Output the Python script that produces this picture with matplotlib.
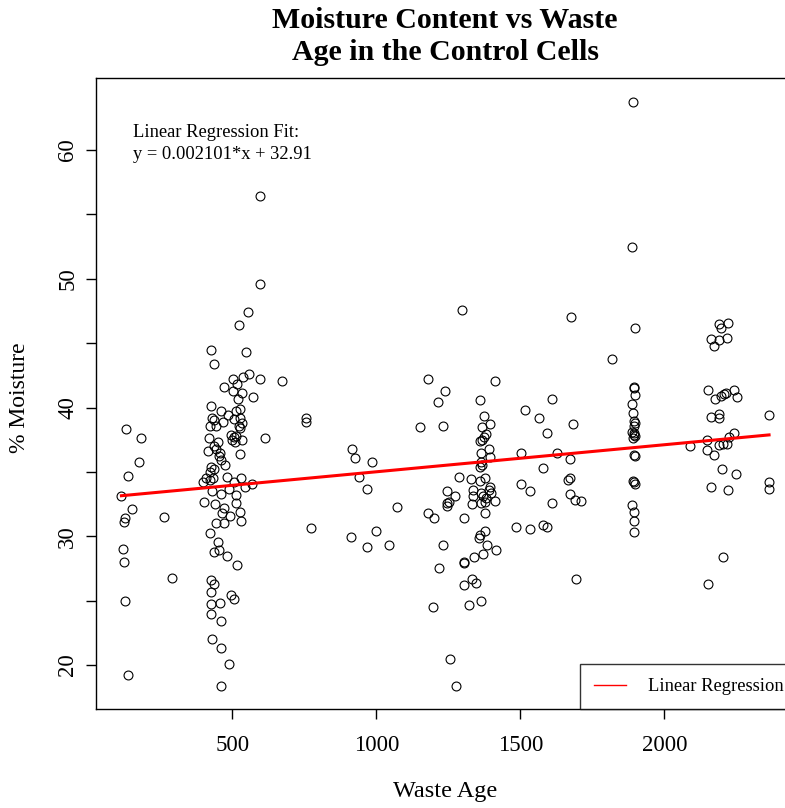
import numpy as np
import matplotlib
matplotlib.use("Agg")
import matplotlib.pyplot as plt

plt.rcParams['font.family'] = ['Liberation Serif', 'DejaVu Serif']

# Waste age (days) and moisture content (%) for the control cells
waste_age = [
    132, 184, 175, 137, 115, 151, 129, 125, 262, 120, 125, 292, 129, 137,
    595, 595, 555, 522,
    426, 548, 438, 557, 538, 501, 595, 517, 470, 502, 534, 573, 521, 528,
    426, 462, 484, 512, 428, 438, 469, 506, 525, 421, 444, 522, 535, 528,
    614, 419, 450, 495, 505, 514, 500, 508, 534, 437, 444, 415, 456, 454,
    462, 527, 427, 435, 476, 424, 410, 398, 421, 433, 483, 531, 505, 543,
    568, 430, 462, 490, 511, 400, 440, 471, 514, 528, 465, 491, 530, 444, 471,
    423, 449, 435, 454, 483, 517, 425, 435, 426, 497, 506, 458, 426, 427,
    462, 430, 462, 487, 460,
    673, 754, 754, 914, 925, 985, 941, 967, 1071, 773, 911, 998, 967, 1044,
    1298, 1676,
    1179, 1413, 1239, 1214, 1360, 1611, 1153, 1230, 1374, 1396, 1365, 1379,
    1375, 1367, 1361, 1515, 1563, 1593, 1684, 1391, 1396, 1363, 1503, 1628,
    1672, 1363, 1367, 1358, 1580, 1287, 1328, 1359, 1377, 1665, 1673, 1502,
    1532, 1396, 1391, 1398, 1245, 1274, 1337, 1334, 1332, 1363, 1370, 1380,
    1376, 1362, 1410, 1673, 1691, 1711, 1610, 1245, 1251, 1244, 1377, 1179,
    1201, 1304, 1485, 1532, 1580, 1592, 1378, 1360, 1355, 1383, 1416, 1369,
    1338, 1231, 1303, 1305, 1218, 1332, 1344, 1305, 1693, 1196, 1321, 1364,
    1256, 1278,
    1891, 1888, 1897, 1818,
    1893, 1893, 1897, 1888, 1891, 1895, 1897, 1893, 1888, 1893, 1897, 1891,
    1895, 1895, 1897, 1891, 1897, 1895, 1888, 1895, 1893, 1895,
    2190, 2222, 2195, 2160, 2190, 2217, 2173,
    2150, 2177, 2195, 2208, 2213, 2242, 2250, 2161, 2190, 2190, 2363, 2090,
    2146, 2146, 2173, 2190, 2204, 2216, 2225, 2242, 2198, 2247, 2163, 2219,
    2363, 2363, 2204, 2151,
]

moisture = [
    38.35, 37.6, 35.8, 34.7, 33.1, 32.1, 31.4, 31.1, 31.5, 29.0, 28.0, 26.8, 25.0, 19.25,
    56.4, 49.6, 47.4, 46.4,
    44.5, 44.3, 43.4, 42.6, 42.4, 42.2, 42.2, 41.8, 41.6, 41.3, 41.1, 40.8, 40.7, 39.9,
    40.1, 39.7, 39.4, 39.75, 39.2, 39.0, 38.9, 39.1, 39.2, 38.6, 38.6, 38.6, 38.8, 38.4,
    37.6, 37.6, 37.35, 37.9, 37.7, 37.8, 37.5, 37.35, 37.5, 37.0, 36.8, 36.6, 36.5, 36.2,
    35.9, 36.4, 35.4, 35.2, 35.5, 35.0, 34.5, 34.25, 34.4, 34.5, 34.6, 34.5, 34.25, 33.85,
    34.1, 33.5, 33.3, 33.7, 33.2, 32.7, 32.5, 32.2, 32.6, 31.9, 31.8, 31.6, 31.2, 31.05, 31.05,
    30.25, 29.55, 28.75, 28.9, 28.5, 27.8, 26.6, 26.3, 25.7, 25.45, 25.1, 24.8, 24.75, 24.0,
    23.4, 22.0, 21.3, 20.05, 18.4,
    42.1, 39.2, 38.9, 36.8, 36.05, 35.8, 34.6, 33.7, 32.3, 30.65, 29.95, 30.45, 29.2, 29.3,
    47.6, 47.0,
    42.2, 42.1, 41.3, 40.4, 40.6, 40.7, 38.5, 38.6, 39.35, 38.7, 38.5, 37.95,
    37.7, 37.5, 37.4, 39.8, 39.2, 38.0, 38.7, 36.75, 36.15, 36.5, 36.45, 36.5,
    36.0, 35.8, 35.5, 35.4, 35.3, 34.6, 34.45, 34.3, 34.5, 34.4, 34.55, 34.1,
    33.5, 33.85, 33.6, 33.4, 33.5, 33.15, 33.6, 33.1, 32.5, 33.4, 33.15, 33.0,
    32.7, 32.55, 32.75, 33.3, 32.85, 32.75, 32.6, 32.55, 32.65, 32.35, 31.8, 31.8,
    31.4, 31.45, 30.75, 30.55, 30.9, 30.75, 30.4, 30.1, 29.85, 29.3, 28.9, 28.6,
    28.4, 29.3, 27.95, 28.0, 27.55, 26.65, 26.4, 26.2, 26.7, 24.5, 24.65, 24.95,
    20.5, 18.4,
    63.75, 52.5, 46.2, 43.8,
    41.6, 41.5, 41.0, 40.3, 39.6, 38.95, 38.8, 38.6, 38.1, 38.0, 37.8, 37.65,
    37.9, 36.3, 36.2, 34.3, 34.1, 34.2, 32.4, 31.9, 31.2, 30.35,
    46.5, 46.6, 46.2, 45.35, 45.25, 45.4, 44.8,
    41.35, 40.7, 40.9, 41.05, 41.1, 41.35, 40.8, 39.3, 39.5, 39.2, 39.4, 37.0,
    37.5, 36.7, 36.35, 37.1, 37.15, 37.2, 37.7, 38.0, 35.2, 34.8, 33.8, 33.6,
    34.25, 33.65, 28.4, 26.3,
]

# Fitted regression coefficients
slope = 0.002101
intercept = 32.91

x_ticks = [500, 1000, 1500, 2000]
y_ticks = [20, 25, 30, 35, 40, 45, 50, 55, 60]
y_tick_labels = ['20', '', '30', '', '40', '', '50', '', '60']

x = np.asarray(waste_age, dtype=float)
y = np.asarray(moisture, dtype=float)

fig = plt.figure(figsize=(7.85, 8.08), dpi=100)
ax = fig.add_axes([0.1217, 0.1225, 0.891, 0.7805])

ax.plot(x, y, linestyle='none', marker='o', markersize=6.4,
        markerfacecolor='none', markeredgecolor='black', markeredgewidth=0.8)

xfit = np.array([x.min(), x.max()])
ax.plot(xfit, slope * xfit + intercept, color='red', linewidth=2.2,
        label='Linear Regression')

# 4% padding on each side of the data range
xr = x.max() - x.min()
yr = y.max() - y.min()
ax.set_xlim(x.min() - 0.04 * xr, x.max() + 0.04 * xr)
ax.set_ylim(y.min() - 0.04 * yr, y.max() + 0.04 * yr)

ax.set_xticks(x_ticks)
ax.set_xticklabels([str(t) for t in x_ticks])
ax.set_yticks(y_ticks)
ax.set_yticklabels(y_tick_labels, rotation=90, va='center')
ax.tick_params(axis='both', direction='out', length=7, width=1, labelsize=16.5,
               color='black')
ax.tick_params(axis='x', pad=12)
ax.tick_params(axis='y', pad=5.5)
for s in ax.spines.values():
    s.set_linewidth(1.0)
    s.set_color('black')

ax.text(0.0536, 0.927, 'Linear Regression Fit:\ny = 0.002101*x + 32.91',
        transform=ax.transAxes, ha='left', va='top', fontsize=13.3,
        linespacing=1.35)

leg = ax.legend(loc='lower right', bbox_to_anchor=(1.004, 0.0), fontsize=13.3,
                frameon=True, fancybox=False, borderaxespad=0,
                handlelength=1.75, handletextpad=1.2, borderpad=0.75)
leg.get_frame().set_edgecolor('black')
leg.get_frame().set_linewidth(1.0)
leg.get_lines()[0].set_linewidth(1.0)

fig.text(0.567, 0.955, 'Moisture Content vs Waste\nAge in the Control Cells',
         ha='center', va='center', fontsize=21.5, fontweight='bold',
         linespacing=1.25)
fig.text(0.567, 1 - 792 / 808, 'Waste Age', ha='center', va='center',
         fontsize=17.5)
fig.text(20 / 785, 1 - 398 / 808, '% Moisture', ha='center', va='center',
         rotation=90, fontsize=17)

fig.savefig('out.png', dpi=100)
